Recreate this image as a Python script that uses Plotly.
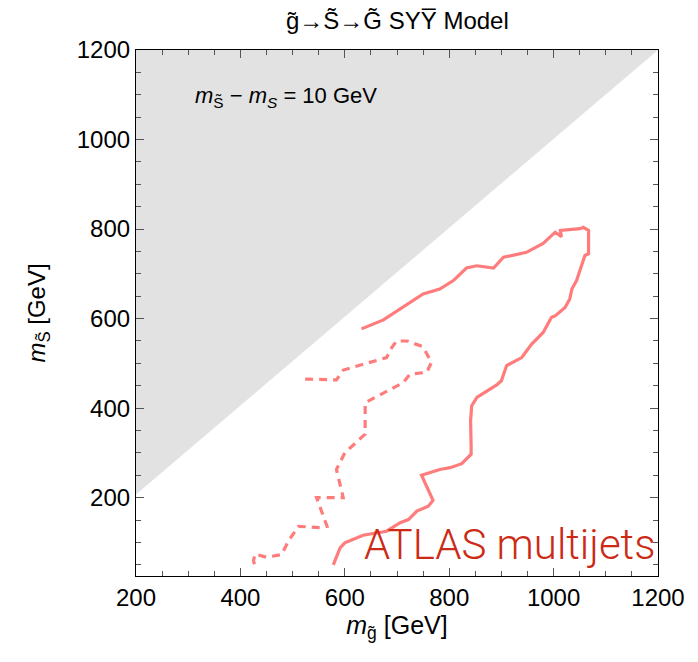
import plotly.graph_objects as go

# Data (GeV)
solid_mg = [632, 674, 750, 782, 808, 833, 853, 885, 904, 948, 980, 1003, 1015, 1013, 1051, 1057, 1067,
            1067, 1060, 1044, 1035, 1031, 1022, 1003, 996, 980, 958, 939, 910, 900, 891, 872, 853, 843,
            841, 842, 842, 824, 802, 782, 747, 769, 760, 738, 722, 706, 680, 635, 600, 591, 578]
solid_ms = [577, 597, 655, 666, 685, 713, 718, 713, 737, 748, 768, 793, 783, 797, 801, 804, 797,
            745, 741, 685, 666, 644, 625, 606, 603, 569, 543, 513, 495, 461, 452, 439, 424, 405,
            371, 315, 297, 276, 267, 263, 250, 194, 181, 170, 151, 144, 125, 116, 99, 88, 50]

dash_mg = [524, 584, 597, 640, 680, 690, 699, 719, 750, 766, 757, 725, 712, 639, 639, 600, 584, 597,
           546, 566, 552, 511, 492, 479, 450, 428, 425, 428]
dash_ms = [465, 463, 485, 500, 513, 535, 550, 550, 537, 502, 480, 476, 457, 412, 342, 300, 263, 200,
           200, 136, 133, 136, 103, 73, 67, 74, 59, 47]

excl_mg = [200, 200, 1200]
excl_ms = [207, 1200, 1200]

x_ticks = [200, 400, 600, 800, 1000, 1200]
y_ticks = [200, 400, 600, 800, 1000, 1200]

FONT = "Liberation Sans, Arial, Helvetica, sans-serif"
LINE = "rgba(255,110,110,0.9)"

fig = go.Figure()
fig.add_trace(go.Scatter(x=excl_mg, y=excl_ms, fill="toself", fillcolor="#e2e2e2",
                         line=dict(width=0), mode="lines", hoverinfo="skip"))
fig.add_trace(go.Scatter(x=solid_mg, y=solid_ms, mode="lines",
                         line=dict(color=LINE, width=3.2)))
fig.add_trace(go.Scatter(x=dash_mg, y=dash_ms, mode="lines",
                         line=dict(color=LINE, width=3.2, dash="8px,6px")))

axis_common = dict(showgrid=False, zeroline=False, showline=True, linecolor="black", linewidth=1.2,
                   mirror="ticks", ticks="inside", ticklen=8, tickwidth=1, tickcolor="#555",
                   tickfont=dict(family=FONT, size=24, color="black"),
                   minor=dict(ticks="inside", ticklen=5, dtick=50, tickcolor="#555", tickwidth=1))

fig.update_xaxes(range=[200, 1200], tickvals=x_ticks, ticktext=[str(v) for v in x_ticks],
                 title=dict(text="<i>m</i><sub>g̃</sub> [GeV]", font=dict(family=FONT, size=25, color="black"),
                            standoff=6), **axis_common)
fig.update_yaxes(range=[25, 1200], tickvals=y_ticks, ticktext=[str(v) for v in y_ticks],
                 title=dict(text="<i>m</i><sub>S̃</sub> [GeV]", font=dict(family=FONT, size=24, color="black"),
                            standoff=24), **axis_common)

fig.add_annotation(x=0.5, y=1.0, xref="paper", yref="paper", yshift=14, yanchor="bottom",
                   text="g̃→S̃→G̃ SYY\u0305 Model", showarrow=False,
                   font=dict(family=FONT, size=24, color="black"))
fig.add_annotation(x=0.11, y=0.91, xref="paper", yref="paper", xanchor="left", yanchor="middle",
                   text="<i>m</i><sub>S̃</sub> − <i>m</i><sub><i>S</i></sub> = 10 GeV", showarrow=False,
                   font=dict(family=FONT, size=22, color="black"))
fig.add_annotation(x=0.998, y=0.01, xref="paper", yref="paper", xanchor="right", yanchor="bottom",
                   text="ATLAS multijets", showarrow=False,
                   font=dict(family="Roboto, sans-serif", size=42, color="#cc2a14", weight=300))

fig.update_layout(width=698, height=662, margin=dict(l=136, r=40, t=50, b=86),
                  plot_bgcolor="white", paper_bgcolor="white", showlegend=False)

fig.write_html("out.html")
